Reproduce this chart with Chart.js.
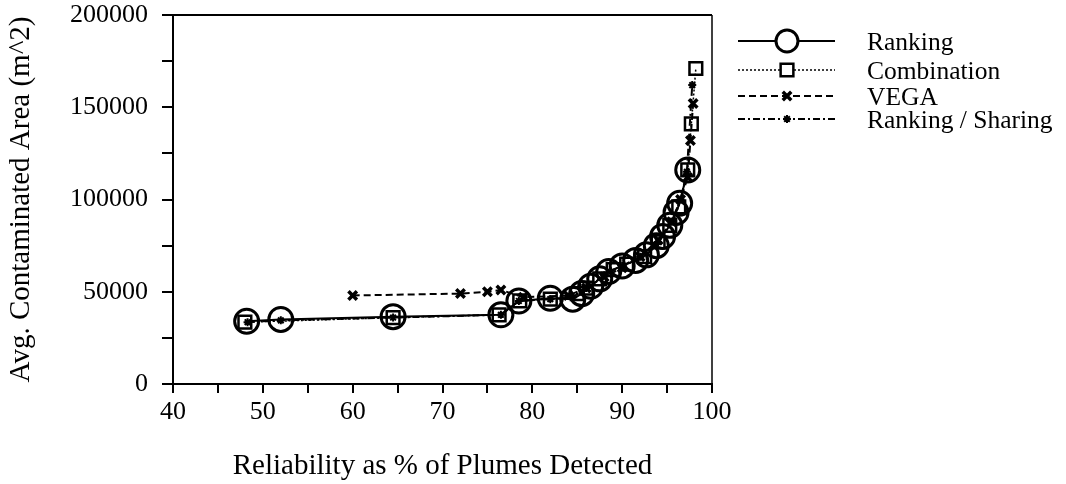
<!DOCTYPE html>
<html>
<head>
<meta charset="utf-8">
<script src="https://cdn.jsdelivr.net/npm/chart.js@4.4.1/dist/chart.umd.min.js"></script>
<style>
  html, body { margin: 0; padding: 0; background: #fff; }
  #wrap { width: 1066px; height: 484px; }
</style>
</head>
<body>
<div id="wrap"><canvas id="plumeChart" width="1066" height="484"></canvas></div>
<script>
// values (x = reliability %, y = avg contaminated area m^2)
const rankingX = [48.2, 52.0, 64.5, 76.5, 78.5, 82.0, 84.5, 85.5, 86.5, 87.5, 88.5, 90.0, 91.5, 92.7, 93.8, 94.5, 95.3, 96.0, 96.4, 97.3];
const rankingY = [34000, 35000, 36500, 37500, 45000, 46500, 46000, 49000, 53000, 57000, 61000, 64000, 67000, 70000, 75000, 80000, 86000, 93000, 98000, 116000];

const combinationX = [48.0, 64.5, 76.3, 78.6, 82.0, 85.0, 86.0, 87.5, 89.0, 90.5, 92.5, 94.0, 95.3, 96.3, 97.3, 97.7, 98.2];
const combinationY = [33500, 36000, 37500, 45000, 46000, 49000, 52000, 57000, 62000, 65000, 69000, 77000, 86000, 96000, 116000, 141000, 171000];

const vegaX = [60.0, 72.0, 75.0, 76.5, 79.0, 84.0, 86.0, 88.0, 90.0, 92.0, 94.0, 95.5, 96.5, 97.3, 97.6, 97.9];
const vegaY = [48000, 49000, 50000, 51000, 47000, 48000, 52000, 58000, 63000, 69000, 78000, 88000, 100000, 112000, 132000, 152000];

const sharingX = [48.3, 52.0, 64.5, 76.5, 78.5, 82.0, 84.5, 86.0, 88.0, 90.0, 92.0, 94.0, 95.5, 96.5, 97.2, 97.8];
const sharingY = [33500, 34500, 36000, 37500, 45000, 46000, 47000, 52000, 59000, 64000, 69000, 77000, 88000, 100000, 115000, 162000];

const seriesNames = ["Ranking", "Combination", "VEGA", "Ranking / Sharing"];
const xTicks = [40, 50, 60, 70, 80, 90, 100];
const yTicks = [0, 50000, 100000, 150000, 200000];

const toPoints = (xs, ys) => xs.map((x, i) => ({ x: x, y: ys[i] }));

const serif = "'Liberation Serif', 'Times New Roman', serif";

const styles = [
    { pointStyle: "circle", pointRadius: 12, pointBorderWidth: 3, borderWidth: 2, borderDash: [] },
    { pointStyle: "rect", pointRadius: 9, pointBorderWidth: 2.5, borderWidth: 1.5, borderDash: [2, 2] },
    { pointStyle: "crossRot", pointRadius: 6, pointBorderWidth: 3.5, borderWidth: 2, borderDash: [7, 4] },
    { pointStyle: "star", pointRadius: 4, pointBorderWidth: 2, borderWidth: 2, borderDash: [7, 3, 2, 3] }
];

const seriesData = [
    toPoints(rankingX, rankingY),
    toPoints(combinationX, combinationY),
    toPoints(vegaX, vegaY),
    toPoints(sharingX, sharingY)
];

const datasets = seriesNames.map((name, i) => ({
    label: name,
    data: seriesData[i],
    showLine: true,
    borderColor: "#000",
    backgroundColor: "rgba(0,0,0,0)",
    pointBackgroundColor: "rgba(0,0,0,0)",
    pointBorderColor: "#000",
    borderWidth: styles[i].borderWidth,
    borderDash: styles[i].borderDash,
    pointStyle: styles[i].pointStyle,
    pointRadius: styles[i].pointRadius,
    pointBorderWidth: styles[i].pointBorderWidth,
    tension: 0
}));

// top and right frame lines
const frame = {
    id: "frame",
    afterDatasetsDraw(chart) {
        const { ctx, chartArea: a } = chart;
        ctx.save();
        ctx.strokeStyle = "#000";
        ctx.lineWidth = 2;
        ctx.beginPath();
        ctx.moveTo(a.left, a.top);
        ctx.lineTo(a.right, a.top);
        ctx.stroke();
        ctx.lineWidth = 1.5;
        ctx.beginPath();
        ctx.moveTo(a.right, a.top);
        ctx.lineTo(a.right, a.bottom);
        ctx.stroke();
        ctx.restore();
    }
};

// legend off to the right: line - marker - line, then the name
const sideLegend = {
    id: "sideLegend",
    afterDraw(chart) {
        const ctx = chart.ctx;
        const rows = [41, 70, 96, 119];
        const x0 = 738, x1 = 835, mid = 787, tx = 867;
        ctx.save();
        seriesNames.forEach((name, i) => {
            const y = rows[i];
            const st = styles[i];
            ctx.strokeStyle = "#000";
            ctx.lineWidth = st.borderWidth;
            ctx.setLineDash(st.borderDash);
            ctx.beginPath();
            ctx.moveTo(x0, y);
            ctx.lineTo(x1, y);
            ctx.stroke();
            ctx.setLineDash([]);
            // blank behind marker
            ctx.fillStyle = "#fff";
            ctx.beginPath();
            ctx.arc(mid, y, st.pointRadius * 0.8, 0, Math.PI * 2);
            if (i < 2) ctx.fill();
            ctx.strokeStyle = "#000";
            ctx.fillStyle = "#fff";
            ctx.lineWidth = st.pointBorderWidth;
            Chart.helpers.drawPoint(ctx, {
                pointStyle: st.pointStyle,
                radius: i === 0 ? 11 : st.pointRadius,
                rotation: 0,
                borderWidth: st.pointBorderWidth
            }, mid, y);
            ctx.fillStyle = "#000";
            ctx.font = "25.5px " + serif;
            ctx.textBaseline = "middle";
            ctx.textAlign = "left";
            ctx.fillText(name, tx, y + 2);
        });
        ctx.restore();
    }
};

new Chart(document.getElementById("plumeChart"), {
    type: "scatter",
    data: { datasets },
    options: {
        responsive: false,
        animation: false,
        layout: { padding: { left: 4, right: 354, top: 15, bottom: 0 } },
        plugins: {
            legend: { display: false },
            tooltip: { enabled: false }
        },
        scales: {
            x: {
                type: "linear",
                min: 40,
                max: 100,
                afterFit: s => { s.height = 100; },
                ticks: {
                    stepSize: 5,
                    autoSkip: false,
                    maxRotation: 0,
                    color: "#000",
                    padding: 4,
                    font: { family: serif, size: 26 },
                    callback: v => (xTicks.includes(v) ? String(v) : "")
                },
                grid: { drawOnChartArea: false, tickLength: 9, color: "#000", lineWidth: 2 },
                border: { color: "#000", width: 2 },
                title: {
                    display: true,
                    text: "Reliability as % of Plumes Detected",
                    color: "#000",
                    font: { family: serif, size: 29 },
                    padding: { top: 6, bottom: 0 }
                }
            },
            y: {
                type: "linear",
                min: 0,
                max: 200000,
                afterFit: s => { s.width = 169; s.paddingTop = 0; s.paddingBottom = 0; },
                ticks: {
                    stepSize: 25000,
                    autoSkip: false,
                    color: "#000",
                    padding: 14,
                    font: { family: serif, size: 26 },
                    callback: v => (yTicks.includes(v) ? String(v) : "")
                },
                grid: { drawOnChartArea: false, tickLength: 11, color: "#000", lineWidth: 2 },
                border: { color: "#000", width: 2 },
                title: {
                    display: true,
                    text: "Avg. Contaminated Area (m^2)",
                    color: "#000",
                    font: { family: serif, size: 29 },
                    padding: { top: 0, bottom: 4 }
                }
            }
        }
    },
    plugins: [frame, sideLegend]
});
</script>
</body>
</html>
